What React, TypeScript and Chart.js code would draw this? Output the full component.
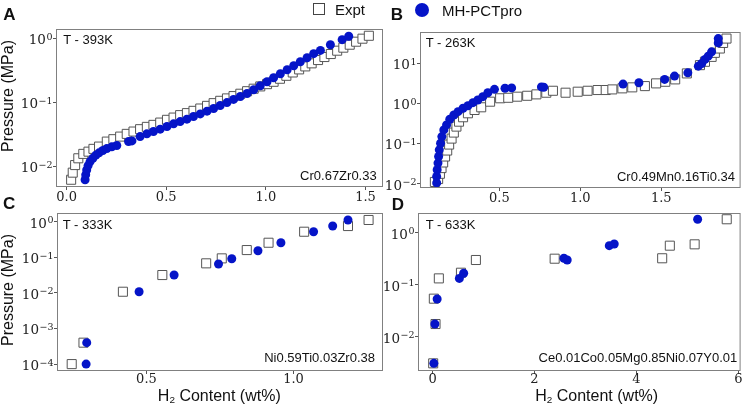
import React, { useEffect, useRef } from "react";
import { Chart, registerables } from "chart.js";

Chart.register(...registerables);

// ---------- data ----------
const aExptX = [0.023, 0.031, 0.043, 0.059, 0.084, 0.110, 0.135, 0.163, 0.202, 0.235, 0.269, 0.302, 0.336, 0.369, 0.403, 0.436, 0.470, 0.504, 0.537, 0.570, 0.604, 0.637, 0.671, 0.705, 0.738, 0.771, 0.805, 0.838, 0.872, 0.906, 0.939, 0.972, 1.006, 1.039, 1.071, 1.103, 1.135, 1.167, 1.198, 1.230, 1.262, 1.294, 1.326, 1.358, 1.389, 1.421, 1.453, 1.485, 1.517];
const aExptY = [0.0062, 0.0080, 0.0105, 0.0134, 0.0157, 0.0170, 0.0188, 0.0204, 0.0244, 0.0266, 0.0292, 0.0322, 0.0350, 0.0381, 0.0414, 0.0445, 0.0483, 0.0533, 0.0578, 0.0631, 0.0678, 0.0736, 0.080, 0.088, 0.097, 0.1055, 0.115, 0.125, 0.136, 0.149, 0.163, 0.177, 0.192, 0.209, 0.233, 0.259, 0.292, 0.326, 0.363, 0.405, 0.456, 0.508, 0.566, 0.638, 0.711, 0.791, 0.881, 0.982, 1.09];
const aMhX = [0.093, 0.096, 0.101, 0.108, 0.118, 0.132, 0.147, 0.163, 0.182, 0.202, 0.227, 0.252, 0.311, 0.328, 0.369, 0.403, 0.436, 0.470, 0.504, 0.537, 0.570, 0.604, 0.637, 0.671, 0.705, 0.738, 0.771, 0.805, 0.838, 0.872, 0.906, 0.939, 0.972, 1.006, 1.039, 1.073, 1.107, 1.140, 1.173, 1.207, 1.240, 1.274, 1.324, 1.383, 1.416];
const aMhY = [0.0062, 0.0074, 0.0088, 0.0103, 0.0119, 0.0134, 0.0150, 0.0163, 0.0177, 0.0190, 0.0202, 0.0212, 0.0244, 0.025, 0.0292, 0.0322, 0.035, 0.0381, 0.0419, 0.0461, 0.050, 0.0546, 0.060, 0.066, 0.0728, 0.080, 0.089, 0.099, 0.111, 0.123, 0.137, 0.157, 0.181, 0.209, 0.241, 0.279, 0.322, 0.372, 0.429, 0.496, 0.573, 0.645, 0.791, 0.948, 1.07];

const bExptX = [0.102, 0.122, 0.133, 0.143, 0.153, 0.165, 0.178, 0.190, 0.205, 0.219, 0.235, 0.251, 0.276, 0.306, 0.347, 0.388, 0.443, 0.505, 0.555, 0.611, 0.672, 0.729, 0.790, 0.831, 0.909, 0.984, 1.045, 1.107, 1.157, 1.198, 1.260, 1.321, 1.399, 1.468, 1.525, 1.586, 1.658, 1.739, 1.770, 1.811, 1.831, 1.862, 1.882, 1.903];
const bExptY = [0.011, 0.013, 0.0176, 0.0244, 0.0337, 0.0475, 0.067, 0.0944, 0.133, 0.188, 0.265, 0.352, 0.454, 0.570, 0.689, 0.804, 1.11, 1.35, 1.39, 1.48, 1.56, 1.69, 1.86, 2.08, 1.86, 1.97, 2.08, 2.17, 2.17, 2.25, 2.39, 2.53, 2.72, 3.18, 3.49, 4.0, 5.64, 9.07, 11, 14.6, 18.4, 23.6, 32.5, 41.8];
const bMhX = [0.113, 0.113, 0.116, 0.121, 0.125, 0.129, 0.137, 0.145, 0.157, 0.174, 0.194, 0.219, 0.245, 0.276, 0.306, 0.337, 0.367, 0.398, 0.429, 0.470, 0.535, 0.576, 0.760, 0.774, 1.264, 1.362, 1.521, 1.582, 1.664, 1.729, 1.750, 1.770, 1.790, 1.811, 1.852, 1.852];
const bMhY = [0.0104, 0.0151, 0.0222, 0.0325, 0.0475, 0.0697, 0.102, 0.149, 0.219, 0.292, 0.405, 0.518, 0.625, 0.760, 0.881, 1.05, 1.22, 1.48, 1.86, 2.26, 2.4, 2.45, 2.6, 2.55, 3.05, 3.29, 4.0, 4.83, 5.83, 8.57, 10, 12.6, 15.2, 19.5, 32.6, 41.8];

const cExptX = [0.246, 0.286, 0.420, 0.554, 0.703, 0.756, 0.841, 0.915, 1.036, 1.185, 1.255];
const cExptY = [1e-4, 4e-4, 0.0108, 0.0318, 0.0678, 0.0935, 0.160, 0.257, 0.524, 0.757, 1.12];
const cMhX = [0.295, 0.297, 0.475, 0.594, 0.745, 0.790, 0.879, 0.957, 1.068, 1.133, 1.185];
const cMhY = [1e-4, 4e-4, 0.0108, 0.0318, 0.0649, 0.0914, 0.153, 0.257, 0.524, 0.757, 1.12];

const dExptX = [0.012, 0.058, 0.025, 0.123, 0.557, 0.850, 2.396, 4.506, 4.656, 5.143, 5.773];
const dExptY = [0.00305, 0.0175, 0.054, 0.133, 0.171, 0.301, 0.319, 0.325, 0.569, 0.604, 1.84];
const dMhX = [0.025, 0.045, 0.090, 0.526, 0.610, 2.577, 2.642, 3.468, 3.565, 5.202];
const dMhY = [0.00305, 0.0175, 0.0532, 0.133, 0.167, 0.325, 0.301, 0.569, 0.613, 1.84];

// tick values
const aXTicks = [0, 0.5, 1.0, 1.5];
const bXTicks = [0.5, 1.0, 1.5];
const cXTicks = [0.5, 1.0];
const dXTicks = [0, 2, 4, 6];
const aYTicks = [1e-2, 1e-1, 1];
const bYTicks = [1e-2, 1e-1, 1, 10];
const cYTicks = [1e-4, 1e-3, 1e-2, 1e-1, 1];
const dYTicks = [1e-2, 1e-1, 1];

// ---------- styling ----------
const BLUE = "#0514c8";
const SQUARE_EDGE = "#555555";
const FRAME = "#808080";
const SANS = '"Liberation Sans", Arial, sans-serif';
const SERIF_NAME = "DejaVu Serif";
const SERIF = '"DejaVu Serif", serif';
const W = 748;
const H = 406;

type Panel = {
  exX: number[]; exY: number[]; mhX: number[]; mhY: number[];
  xMin: number; xMax: number; yMin: number; yMax: number;
  xTicks: number[]; yTicks: number[]; xDec: number;
  area: [number, number, number, number];
  xPad: number;
};

const panels: Panel[] = [
  { exX: aExptX, exY: aExptY, mhX: aMhX, mhY: aMhY, xMin: -0.053, xMax: 1.588, yMin: 0.00478, yMax: 1.39, xTicks: aXTicks, yTicks: aYTicks, xDec: 1, area: [56, 29, 383, 187], xPad: 0 },
  { exX: bExptX, exY: bExptY, mhX: bMhX, mhY: bMhY, xMin: 0.01, xMax: 1.99, yMin: 0.00777, yMax: 61, xTicks: bXTicks, yTicks: bYTicks, xDec: 1, area: [420, 32, 744, 188], xPad: 0 },
  { exX: cExptX, exY: cExptY, mhX: cMhX, mhY: cMhY, xMin: 0.196, xMax: 1.304, yMin: 6.4e-5, yMax: 1.76, xTicks: cXTicks, yTicks: cYTicks, xDec: 1, area: [57, 213, 383, 371], xPad: -2 },
  { exX: dExptX, exY: dExptY, mhX: dMhX, mhY: dMhY, xMin: -0.286, xMax: 6.045, yMin: 0.00217, yMax: 2.43, xTicks: dXTicks, yTicks: dYTicks, xDec: 0, area: [418, 213, 743, 371], xPad: -2 },
];

// y tick labels as 10 with a raised exponent (mathtext look)
const powLabelPlugin = {
  id: "powLabels",
  afterDraw(chart: any) {
    const s = chart.scales.y;
    const ctx = chart.ctx;
    const bigSize = 13.5;
    const smallSize = 9.5;
    const right = chart.chartArea.left - 3.5;
    ctx.save();
    ctx.fillStyle = "#222";
    ctx.textBaseline = "alphabetic";
    ctx.textAlign = "left";
    for (const t of s.ticks) {
      const v = t.value;
      const y = s.getPixelForValue(v);
      const exp = String(Math.round(Math.log10(v))).replace("-", "\u2212");
      ctx.font = `${smallSize}px "${SERIF_NAME}"`;
      const ew = ctx.measureText(exp).width;
      ctx.font = `${bigSize}px "${SERIF_NAME}"`;
      const tw = ctx.measureText("10").width;
      const digitH = 0.729 * bigSize;
      const base = y + 1 + digitH / 2;
      ctx.fillText("10", right - ew - tw - 0.5, base);
      ctx.font = `${smallSize}px "${SERIF_NAME}"`;
      ctx.fillText(exp, right - ew, base - digitH + 5.4);
    }
    ctx.restore();
  },
};

const framePlugin = {
  id: "frame",
  afterDatasetsDraw(chart: any) {
    const { ctx, chartArea: a } = chart;
    ctx.save();
    ctx.strokeStyle = FRAME;
    ctx.lineWidth = 1;
    ctx.strokeRect(a.left + 0.5, a.top + 0.5, a.right - a.left - 1, a.bottom - a.top - 1);
    ctx.restore();
  },
};

function ChartPanel({ p }: { p: Panel }) {
  const ref = useRef<HTMLCanvasElement>(null);
  useEffect(() => {
    const [L, T, R, B] = p.area;
    const WY = 50;
    const HX = 20;
    const chart = new Chart(ref.current as HTMLCanvasElement, {
      type: "scatter",
      data: {
        datasets: [
          {
            label: "MH-PCTpro",
            data: p.mhX.map((x, i) => ({ x, y: p.mhY[i] })),
            pointStyle: "circle",
            pointRadius: 4.5,
            backgroundColor: BLUE,
            borderColor: BLUE,
            borderWidth: 0,
          },
          {
            label: "Expt",
            data: p.exX.map((x, i) => ({ x, y: p.exY[i] })),
            pointStyle: "rect",
            pointRadius: 6.4,
            backgroundColor: "#ffffff",
            borderColor: SQUARE_EDGE,
            borderWidth: 1,
          },
        ],
      },
      options: {
        animation: false,
        responsive: false,
        events: [],
        layout: { padding: { left: L - WY, top: T, right: W - R, bottom: H - B - HX } },
        plugins: { legend: { display: false }, tooltip: { enabled: false }, title: { display: false } },
        scales: {
          x: {
            type: "linear",
            min: p.xMin,
            max: p.xMax,
            afterFit: (s: any) => { s.height = HX; },
            afterBuildTicks: (s: any) => { s.ticks = p.xTicks.map((v) => ({ value: v })); },
            ticks: {
              callback: (v: any) => Number(v).toFixed(p.xDec),
              font: { family: SERIF, size: 13 },
              color: "#222",
              padding: p.xPad,
              maxRotation: 0,
              autoSkip: false,
            },
            grid: { display: true, drawOnChartArea: false, drawTicks: true, tickLength: 3, color: "#555", lineWidth: 1 },
            border: { display: false },
          },
          y: {
            type: "logarithmic",
            min: p.yMin,
            max: p.yMax,
            afterFit: (s: any) => { s.width = WY; },
            afterBuildTicks: (s: any) => { s.ticks = p.yTicks.map((v) => ({ value: v })); },
            ticks: { display: false, autoSkip: false },
            grid: { display: true, drawOnChartArea: false, drawTicks: true, tickLength: 3, color: "#555", lineWidth: 1 },
            border: { display: false },
          },
        },
      } as any,
      plugins: [framePlugin, powLabelPlugin],
    });
    return () => chart.destroy();
  }, []);
  return (
    <canvas
      ref={ref}
      width={W}
      height={H}
      style={{ position: "absolute", left: 0, top: 0, width: W, height: H, pointerEvents: "none" }}
    />
  );
}

function Txt(props: { x: number; cy: number; size: number; align?: "left" | "right" | "center"; bold?: boolean; children: React.ReactNode }) {
  const { x, cy, size, align = "left", bold, children } = props;
  const tx = align === "right" ? "translateX(-100%)" : align === "center" ? "translateX(-50%)" : "none";
  return (
    <div
      style={{
        position: "absolute",
        left: x,
        top: cy - 0.487 * size,
        transform: tx,
        fontFamily: SANS,
        fontSize: size,
        fontWeight: bold ? 700 : 400,
        lineHeight: 1,
        whiteSpace: "nowrap",
        color: "#111",
      }}
    >
      {children}
    </div>
  );
}

function VTxt(props: { cx: number; cy: number; size: number; children: React.ReactNode }) {
  return (
    <div
      style={{
        position: "absolute",
        left: props.cx,
        top: props.cy,
        transform: "translate(-50%, -50%) rotate(-90deg)",
        fontFamily: SANS,
        fontSize: props.size,
        lineHeight: 1,
        whiteSpace: "nowrap",
        color: "#111",
      }}
    >
      {props.children}
    </div>
  );
}

const xLabel = (
  <span>
    H<sub style={{ fontSize: "0.62em", verticalAlign: "-0.22em", lineHeight: 0 }}>2</sub> Content (wt%)
  </span>
);

export default function App() {
  return (
    <div style={{ position: "fixed", left: 0, top: 0, width: W, height: H, background: "#fff", overflow: "hidden" }}>
      {panels.map((p, i) => (
        <ChartPanel key={i} p={p} />
      ))}

      {/* panel letters */}
      <Txt x={3.3} cy={14.5} size={17} bold>A</Txt>
      <Txt x={390.7} cy={14} size={17} bold>B</Txt>
      <Txt x={3} cy={203} size={17} bold>C</Txt>
      <Txt x={391.7} cy={204} size={17} bold>D</Txt>

      {/* legend */}
      <div style={{ position: "absolute", left: 313, top: 2.5, width: 12, height: 12, boxSizing: "border-box", border: "1px solid #444", background: "#fff" }} />
      <Txt x={335} cy={9} size={15}>Expt</Txt>
      <div style={{ position: "absolute", left: 415, top: 2.5, width: 14, height: 14, borderRadius: "50%", background: BLUE }} />
      <Txt x={442} cy={10} size={15}>MH-PCTpro</Txt>

      {/* temperatures */}
      <Txt x={63.3} cy={39} size={13}>T - 393K</Txt>
      <Txt x={425.7} cy={42} size={13}>T - 263K</Txt>
      <Txt x={62.7} cy={224} size={13}>T - 333K</Txt>
      <Txt x={425.7} cy={224} size={13}>T - 633K</Txt>

      {/* compositions */}
      <Txt x={376.7} cy={175.5} size={13} align="right">Cr0.67Zr0.33</Txt>
      <Txt x={735} cy={176} size={13} align="right">Cr0.49Mn0.16Ti0.34</Txt>
      <Txt x={375} cy={357.5} size={13} align="right">Ni0.59Ti0.03Zr0.38</Txt>
      <Txt x={737.3} cy={357.5} size={13} align="right">Ce0.01Co0.05Mg0.85Ni0.07Y0.01</Txt>

      {/* axis titles */}
      <VTxt cx={8} cy={96} size={16}>Pressure (MPa)</VTxt>
      <VTxt cx={7.5} cy={290} size={16}>Pressure (MPa)</VTxt>
      <Txt x={219.3} cy={395.5} size={16} align="center">{xLabel}</Txt>
      <Txt x={596.7} cy={395.5} size={16} align="center">{xLabel}</Txt>
    </div>
  );
}
